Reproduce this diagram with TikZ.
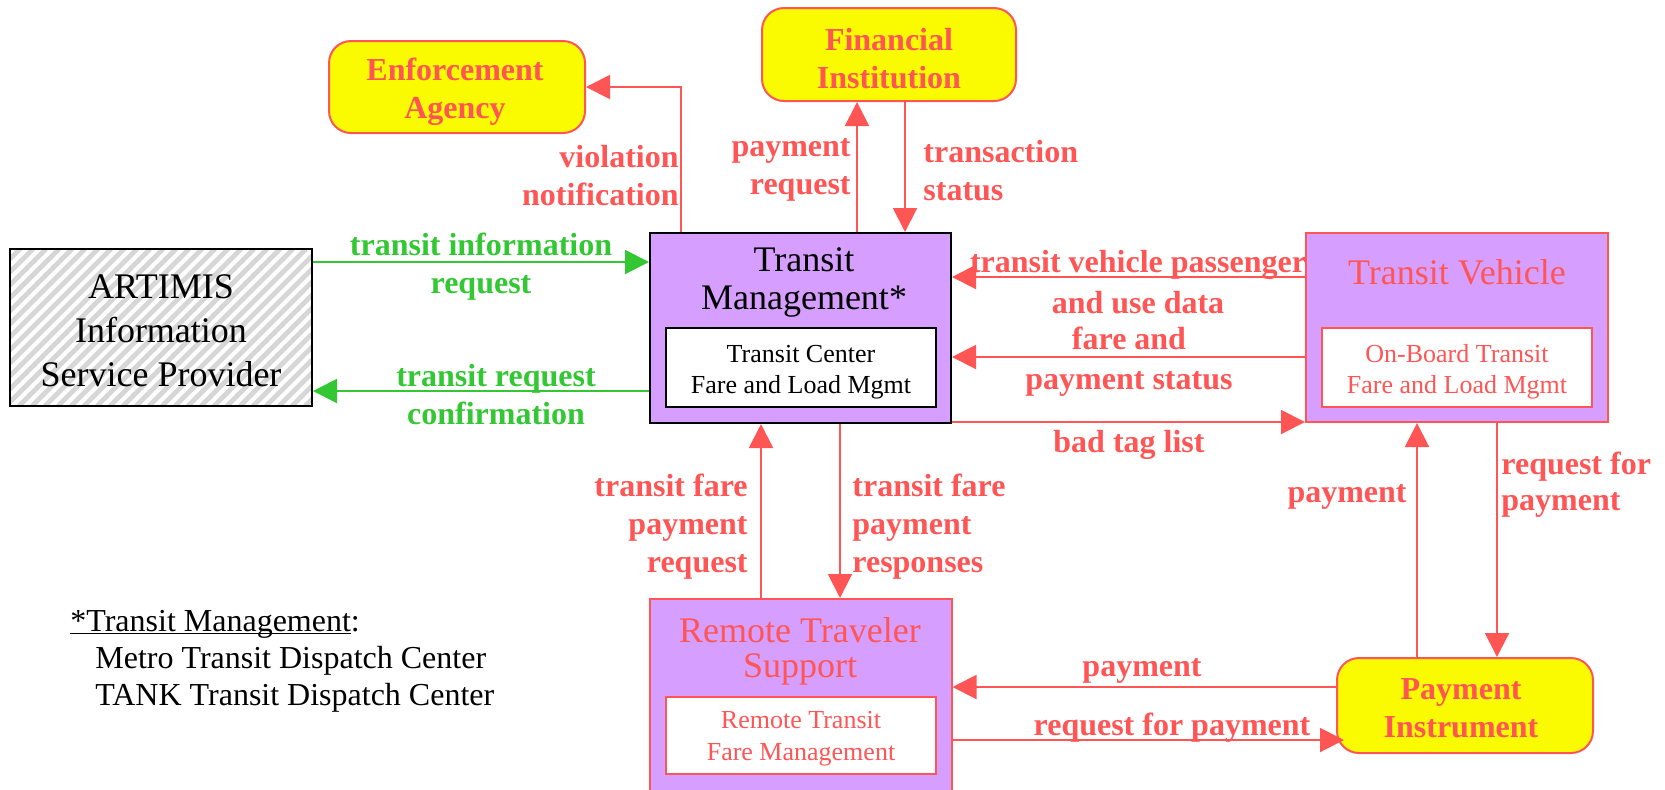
\documentclass[tikz,border=0pt]{standalone}
\usepackage{fontspec}
\setmainfont{Liberation Serif}
\usetikzlibrary{arrows.meta}
\definecolor{myred}{RGB}{255,85,85}
\definecolor{mypurple}{RGB}{213,158,255}
\definecolor{myyellow}{RGB}{250,250,0}
\definecolor{mygreen}{RGB}{51,200,51}
\begin{document}
\begin{tikzpicture}[x=0.5pt,y=-0.5pt,
  box/.style={rectangle, fill=mypurple, line width=1pt, inner sep=0pt},
  innerbox/.style={rectangle, fill=white, line width=1pt, minimum width=135pt, minimum height=39.5pt, inner sep=0pt},
  term/.style={rectangle, rounded corners=11pt, fill=myyellow, draw=myred, line width=1pt, inner sep=0pt},
  termtext/.style={text=myred, font=\fontsize{16}{19}\selectfont\bfseries, align=center, inner sep=0pt},
  title/.style={font=\fontsize{18}{19}\selectfont, align=center, inner sep=0pt},
  small/.style={font=\fontsize{13}{15.5}\selectfont, align=center, inner sep=0pt},
  lbl/.style={font=\fontsize{16}{19}\selectfont\bfseries, text=myred, inner sep=0pt},
  glbl/.style={lbl, text=mygreen, align=center},
  legend/.style={font=\fontsize{16}{19}\selectfont, inner sep=0pt, anchor=base west},
  flow/.style={myred, line width=1pt, -{Triangle[length=12pt,width=12pt]}},
  gflow/.style={mygreen, line width=1pt, -{Triangle[length=12pt,width=12pt]}}
]
\clip (0,0) rectangle (1665,789);

% ARTIMIS (hatched)
\begin{scope}
  \clip (10,249) rectangle (312,406);
  \foreach \i in {-150,-137,...,320} \draw[gray!32, line width=2.4pt] (\i,406) -- ++(157,-157);
\end{scope}
\node[draw=black, line width=1pt, minimum width=151pt, minimum height=78.5pt, inner sep=0pt] (artimis) at (161,327.5) {};
\node[font=\fontsize{18}{22}\selectfont, align=center, inner sep=0pt] (artimistxt) at (161,331) {ARTIMIS\\Information\\Service Provider};

% Transit Management
\node[box, draw=black, minimum width=150.5pt, minimum height=95pt] (tm) at (800.5,328) {};
\node[innerbox, draw=black] (tmin) at (801,367.5) {};
\node[title] (tmtitle) at (804,282) {Transit\\Management*};
\node[small] (tmsub) at (801,372.5) {Transit Center\\Fare and Load Mgmt};

% Transit Vehicle
\node[box, draw=myred, minimum width=151pt, minimum height=94.5pt] (tv) at (1457,327.5) {};
\node[innerbox, draw=myred] (tvin) at (1457,367.5) {};
\node[title, text=myred] (tvtitle) at (1457,272) {Transit Vehicle};
\node[small, text=myred] (tvsub) at (1457,372) {On-Board Transit\\Fare and Load Mgmt};

% Remote Traveler Support
\node[box, draw=myred, minimum width=151pt, minimum height=100.5pt] (rts) at (800.5,699.5) {};
\node[innerbox, draw=myred, minimum height=38.5pt] (rtsin) at (801,735.5) {};
\node[title, text=myred, font=\fontsize{18}{17.5}\selectfont] (rtstitle) at (800,651) {Remote Traveler\\Support};
\node[small, text=myred, font=\fontsize{13}{16}\selectfont] (rtssub) at (801,739) {Remote Transit\\Fare Management};

% Terminators
\node[term, minimum width=128pt, minimum height=46pt] (enf) at (457,87) {};
\node[termtext] (enftxt) at (455,92) {Enforcement\\Agency};
\node[term, minimum width=127pt, minimum height=46.5pt] (fin) at (889,54.5) {};
\node[termtext] (fintxt) at (889,59) {Financial\\Institution};
\node[term, minimum width=128pt, minimum height=47.5pt] (pi) at (1465,705.5) {};
\node[termtext] (pitxt) at (1461,708.5) {Payment\\Instrument};

% Connectors
\draw[gflow] (artimis.east |- 0,262) -- (tm.west |- 0,262);
\draw[gflow] (tm.west |- 0,391) -- (artimis.east |- 0,391);
\draw[flow] (tm.north -| 681,0) |- (enf.east);
\draw[flow] (tm.north -| 857,0) -- (fin.south -| 857,0);
\draw[flow] (fin.south -| 905,0) -- (tm.north -| 905,0);
\draw[flow] (tv.west |- 0,277) -- (tm.east |- 0,277);
\draw[flow] (tv.west |- 0,357) -- (tm.east |- 0,357);
\draw[flow] (tm.east |- 0,422) -- (tv.west |- 0,422);
\draw[flow] (rts.north -| 761,0) -- (tm.south -| 761,0);
\draw[flow] (tm.south -| 840,0) -- (rts.north -| 840,0);
\draw[flow] (pi.north -| 1417,0) -- (tv.south -| 1417,0);
\draw[flow] (tv.south -| 1497,0) -- (pi.north -| 1497,0);
\draw[flow] (pi.west |- 0,687) -- (rts.east |- 0,687);
\draw[flow] (rts.east |- 0,740) -- ([xshift=4pt]pi.west |- 0,740);

% Labels
\node[glbl] (l1) at (481,266.5) {transit information\\request};
\node[glbl] (l2) at (496,395) {transit request\\confirmation};
\node[lbl, anchor=east, align=right] (lviol) at (679,176) {violation\\notification};
\node[lbl, anchor=east, align=right] (lpreq) at (851,170) {payment\\request};
\node[lbl, anchor=west, align=left] (ltrans) at (923,171) {transaction\\status};
\node[lbl, align=center, font=\fontsize{16}{20.5}\selectfont\bfseries] (ltvp) at (1138,282.5) {transit vehicle passenger\\and use data};
\node[lbl, align=center, font=\fontsize{16}{20}\selectfont\bfseries] (lfare) at (1129,362) {fare and\\payment status};
\node[lbl] (lbad) at (1129,445) {bad tag list};
\node[lbl, anchor=east, align=right] (ltfreq) at (748,527) {transit fare\\payment\\request};
\node[lbl, anchor=west, align=left] (ltfresp) at (852,527) {transit fare\\payment\\responses};
\node[lbl, anchor=east] (lpay1) at (1407,497) {payment};
\node[lbl, anchor=west, align=left, font=\fontsize{16}{18}\selectfont\bfseries] (lrfp1) at (1501,485) {request for\\payment};
\node[lbl] (lpay2) at (1142,671) {payment};
\node[lbl] (lrfp2) at (1172,728) {request for payment};

% Legend
\node[legend] (leg1) at (70,631) {\underline{\smash{*Transit Management}}:};
\node[legend] (leg2) at (95,668) {Metro Transit Dispatch Center};
\node[legend] (leg3) at (95,705) {TANK Transit Dispatch Center};
\end{tikzpicture}
\end{document}
